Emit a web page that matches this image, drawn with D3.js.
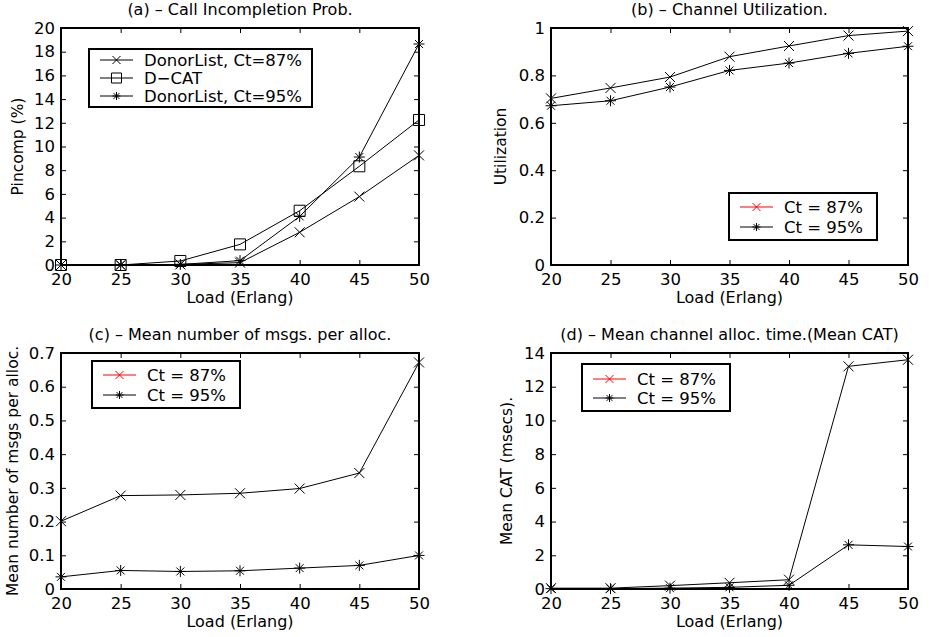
<!DOCTYPE html>
<html>
<head>
<meta charset="utf-8">
<style>
  body { margin: 0; background: #fff; }
  svg { font-family: "DejaVu Sans", Verdana, sans-serif; }
</style>
</head>
<body>
<svg width="929" height="637"></svg>
<script src="https://d3js.org/d3.v7.min.js"></script>
<script>

    // load values (Erlang), shared by all four panels
    var loads = [20, 25, 30, 35, 40, 45, 50];

    // (a) call incompletion probability (%)
    var pincDonor87 = [0, 0, 0.05, 0.2, 2.76, 5.77, 9.25];
    var pincDcat    = [0, 0, 0.34, 1.74, 4.58, 8.33, 12.24];
    var pincDonor95 = [0, 0, 0.05, 0.37, 4.1, 9.11, 18.65];

    // (b) channel utilization
    var util87 = [0.703, 0.747, 0.793, 0.879, 0.924, 0.968, 0.987];
    var util95 = [0.672, 0.693, 0.751, 0.821, 0.852, 0.893, 0.923];

    // (c) mean number of msgs per allocation
    var msgs87 = [0.201, 0.277, 0.279, 0.284, 0.298, 0.344, 0.672];
    var msgs95 = [0.036, 0.055, 0.052, 0.054, 0.062, 0.070, 0.0996];

    // (d) mean channel allocation time (msecs)
    var cat87 = [0.05, 0.05, 0.2, 0.37, 0.55, 13.21, 13.6];
    var cat95 = [0.02, 0.02, 0.05, 0.1, 0.22, 2.62, 2.52];

    var yTicksA = [0, 2, 4, 6, 8, 10, 12, 14, 16, 18, 20];
    var yTicksB = [0, 0.2, 0.4, 0.6, 0.8, 1];
    var yTicksC = [0, 0.1, 0.2, 0.3, 0.4, 0.5, 0.6, 0.7];
    var yTicksD = [0, 2, 4, 6, 8, 10, 12, 14];

    var svg = d3.select("svg");

    function markerPath(type, s) {
        if (type == "x") {
            return "M" + (-s) + "," + (-s) + "L" + s + "," + s + "M" + (-s) + "," + s + "L" + s + "," + (-s);
        }
        if (type == "square") {
            return "M" + (-s) + "," + (-s) + "H" + s + "V" + s + "H" + (-s) + "Z";
        }
        // asterisk: x + plus
        var d = s * 0.72;
        return "M" + (-d) + "," + (-d) + "L" + d + "," + d + "M" + (-d) + "," + d + "L" + d + "," + (-d) +
               "M0," + (-s) + "V" + s + "M" + (-s) + ",0H" + s;
    }
    var markerSize = {x: 5, square: 5.5, star: 5.5};

    function panel(cfg) {
        var x = d3.scaleLinear().domain([20, 50]).range([cfg.left, cfg.right]);
        var y = d3.scaleLinear().domain(cfg.yDomain).range([cfg.bottom, cfg.top]);
        var g = svg.append("g");

        // inside ticks on all four sides
        var tl = 5;
        g.append("g")
                .attr("transform", "translate(0," + cfg.bottom + ")")
                .call(d3.axisBottom(x).tickValues(loads).tickSizeInner(-tl).tickSizeOuter(0).tickPadding(8))
                .call(function(a) { a.select(".domain").remove(); });
        g.append("g")
                .attr("transform", "translate(0," + cfg.top + ")")
                .call(d3.axisTop(x).tickValues(loads).tickSizeInner(-tl).tickSizeOuter(0).tickFormat(""))
                .call(function(a) { a.select(".domain").remove(); });
        g.append("g")
                .attr("transform", "translate(" + cfg.left + ",0)")
                .call(d3.axisLeft(y).tickValues(cfg.yTicks).tickSizeInner(-tl).tickSizeOuter(0).tickPadding(6)
                        .tickFormat(d3.format("~g")))
                .call(function(a) { a.select(".domain").remove(); });
        g.append("g")
                .attr("transform", "translate(" + cfg.right + ",0)")
                .call(d3.axisRight(y).tickValues(cfg.yTicks).tickSizeInner(-tl).tickSizeOuter(0).tickFormat(""))
                .call(function(a) { a.select(".domain").remove(); });
        g.selectAll(".tick text").attr("font-size", 16.5).attr("fill", "#000")
                .attr("font-family", "DejaVu Sans, sans-serif");
        g.selectAll(".tick line").attr("stroke", "#000");

        g.append("rect")
                .attr("x", cfg.left).attr("y", cfg.top)
                .attr("width", cfg.right - cfg.left).attr("height", cfg.bottom - cfg.top)
                .attr("fill", "none").attr("stroke", "#000").attr("stroke-width", 2);

        var line = d3.line()
                .x(function(d, i) { return x(loads[i]); })
                .y(function(d) { return y(d); });

        cfg.series.forEach(function(s) {
            g.append("path")
                    .datum(s.values)
                    .attr("fill", "none")
                    .attr("stroke", "#000")
                    .attr("stroke-width", 1)
                    .attr("d", line);
            g.selectAll(null)
                    .data(s.values)
                    .enter().append("path")
                    .attr("transform", function(d, i) { return "translate(" + x(loads[i]) + "," + y(d) + ")"; })
                    .attr("d", markerPath(s.marker, markerSize[s.marker]))
                    .attr("fill", "none")
                    .attr("stroke", "#000")
                    .attr("stroke-width", 1);
        });

        // title and axis labels
        g.append("text")
                .attr("x", (cfg.left + cfg.right) / 2).attr("y", cfg.top - 13)
                .attr("text-anchor", "middle").attr("font-size", 16)
                .text(cfg.title);
        g.append("text")
                .attr("x", (cfg.left + cfg.right) / 2).attr("y", cfg.bottom + 38)
                .attr("text-anchor", "middle").attr("font-size", 16)
                .text("Load (Erlang)");
        g.append("text")
                .attr("transform", "translate(" + cfg.ylabelX + "," + (cfg.top + cfg.bottom) / 2 + ") rotate(-90)")
                .attr("text-anchor", "middle").attr("font-size", 15.5)
                .text(cfg.ylabel);

        // legend
        var L = cfg.legend;
        g.append("rect")
                .attr("x", L.x).attr("y", L.y).attr("width", L.w).attr("height", L.h)
                .attr("fill", "#fff").attr("stroke", "#000").attr("stroke-width", 2);
        L.items.forEach(function(it, i) {
            var cy = L.y + L.first + i * L.step;
            g.append("line")
                    .attr("x1", L.x + 11).attr("x2", L.x + 44)
                    .attr("y1", cy).attr("y2", cy)
                    .attr("stroke", it.color).attr("stroke-width", 1);
            g.append("path")
                    .attr("transform", "translate(" + (L.x + 27.5) + "," + cy + ")")
                    .attr("d", markerPath(it.marker, it.marker == "square" ? 5 : 4))
                    .attr("fill", "none").attr("stroke", it.color).attr("stroke-width", 1);
            g.append("text")
                    .attr("x", L.x + 55).attr("y", cy + 6)
                    .attr("font-size", 16.5)
                    .text(it.label);
        });
    }

    var ctLegend = [
        {label: "Ct = 87%", marker: "x", color: "#ff0000"},
        {label: "Ct = 95%", marker: "star", color: "#000"}
    ];

    panel({
        left: 61, right: 419, top: 28, bottom: 265,
        yDomain: [0, 20], yTicks: yTicksA,
        title: "(a) \u2013 Call Incompletion Prob.", ylabel: "Pincomp (%)", ylabelX: 23,
        series: [
            {values: pincDonor87, marker: "x"},
            {values: pincDcat, marker: "square"},
            {values: pincDonor95, marker: "star"}
        ],
        legend: {x: 89, y: 49, w: 223, h: 58, first: 11, step: 18,
            items: [
                {label: "DonorList, Ct=87%", marker: "x", color: "#000"},
                {label: "D\u2212CAT", marker: "square", color: "#000"},
                {label: "DonorList, Ct=95%", marker: "star", color: "#000"}
            ]}
    });

    panel({
        left: 551, right: 908, top: 28, bottom: 265,
        yDomain: [0, 1], yTicks: yTicksB,
        title: "(b) \u2013 Channel Utilization.", ylabel: "Utilization", ylabelX: 506,
        series: [
            {values: util87, marker: "x"},
            {values: util95, marker: "star"}
        ],
        legend: {x: 729, y: 193, w: 148, h: 47, first: 14, step: 20, items: ctLegend}
    });

    panel({
        left: 61, right: 419, top: 353, bottom: 589,
        yDomain: [0, 0.7], yTicks: yTicksC,
        title: "(c) \u2013 Mean number of msgs. per alloc.", ylabel: "Mean number of msgs per alloc.", ylabelX: 18,
        series: [
            {values: msgs87, marker: "x"},
            {values: msgs95, marker: "star"}
        ],
        legend: {x: 92, y: 361, w: 148, h: 47, first: 14, step: 20, items: ctLegend}
    });

    panel({
        left: 551, right: 908, top: 353, bottom: 589,
        yDomain: [0, 14], yTicks: yTicksD,
        title: "(d) \u2013 Mean channel alloc. time.(Mean CAT)", ylabel: "Mean CAT (msecs).", ylabelX: 512,
        series: [
            {values: cat87, marker: "x"},
            {values: cat95, marker: "star"}
        ],
        legend: {x: 582, y: 364, w: 148, h: 47, first: 15, step: 19, items: ctLegend}
    });

</script>
</body>
</html>
